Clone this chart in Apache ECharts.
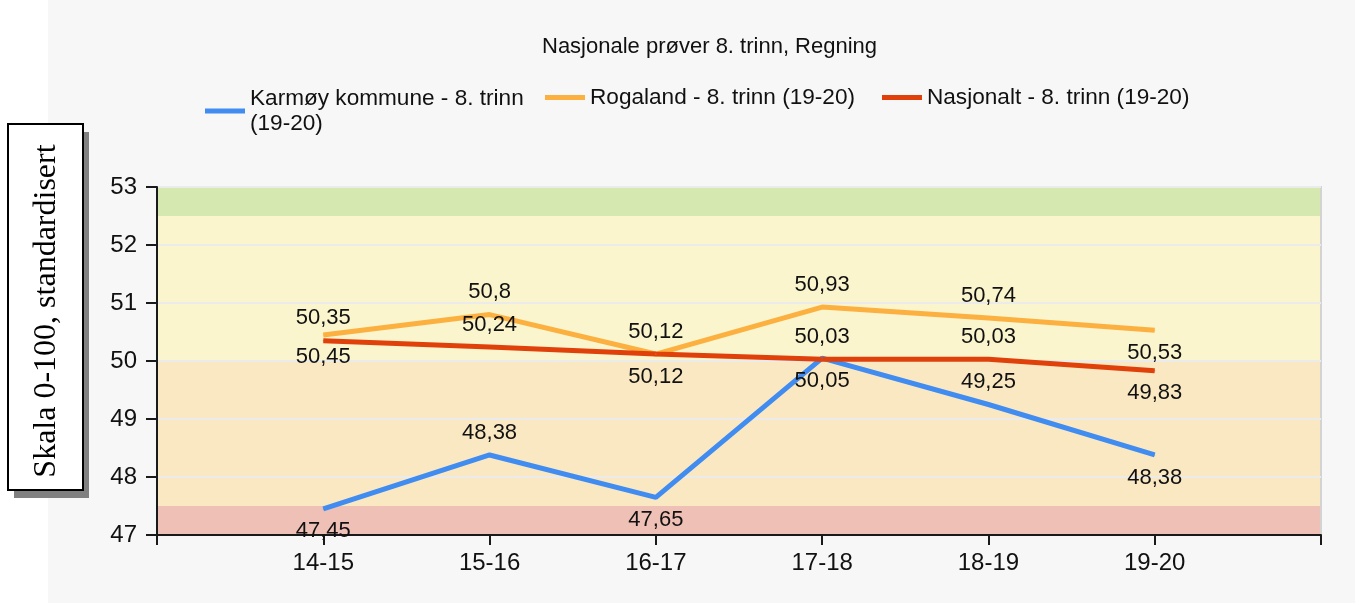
<!DOCTYPE html>
<html>
<head>
<meta charset="utf-8">
<script src="https://cdn.jsdelivr.net/npm/echarts@6/dist/echarts.min.js"></script>
<style>
    html, body { margin: 0; padding: 0; background: #fff; }
    #chart {
        width: 1355px; height: 603px;
        background: linear-gradient(to right, #ffffff 0, #ffffff 48px, #f7f7f7 48px, #f7f7f7 100%);
    }
</style>
</head>
<body>
<div id="chart"></div>
<script>
// sesonger (x-akse)
const seasons = ['14-15', '15-16', '16-17', '17-18', '18-19', '19-20'];

// verdier per serie
const karmoy = [47.45, 48.38, 47.65, 50.05, 49.25, 48.38];
const rogaland = [50.45, 50.8, 50.12, 50.93, 50.74, 50.53];
const nasjonalt = [50.35, 50.24, 50.12, 50.03, 50.03, 49.83];

// hvor etikettene står (over/under linja)
const karmoyLabelPos = ['bottom', 'top', 'bottom', 'bottom', 'top', 'bottom'];
const rogalandLabelPos = ['bottom', 'top', 'top', 'top', 'top', 'bottom'];
const nasjonaltLabelPos = ['top', 'top', 'bottom', 'top', 'top', 'bottom'];

// fargebånd i bakgrunnen
const bandLimits = [47, 47.5, 50, 52.5, 53];
const bandColors = ['#efc0b6', '#fae8c3', '#faf5cd', '#d5e8b0'];

const yTicks = [47, 48, 49, 50, 51, 52, 53];

const seriesNames = ['Karmøy kommune - 8. trinn (19-20)', 'Rogaland - 8. trinn (19-20)', 'Nasjonalt - 8. trinn (19-20)'];

window.onload = function () {
    let chart = echarts.init(document.getElementById('chart'));

    // tom kategori i hver ende, slik at aksen går litt forbi første og siste punkt
    let xData = [''].concat(seasons, ['']);

    function points(values, pos) {
        let list = values.map((v, i) => ({ value: v, label: { position: pos[i] } }));
        return ['-'].concat(list, ['-']);
    }

    let bands = [];
    for (let i = 0; i < bandColors.length; i++) {
        bands.push([
            { yAxis: bandLimits[i], itemStyle: { color: bandColors[i] } },
            { yAxis: bandLimits[i + 1] }
        ]);
    }

    let labelStyle = {
        show: true,
        distance: 11,
        fontSize: 22,
        fontFamily: 'Liberation Sans',
        color: '#111',
        formatter: (p) => String(p.value).replace('.', ',')
    };

    function lineSeries(name, values, pos, color) {
        return {
            name: name,
            type: 'line',
            data: points(values, pos),
            symbol: 'circle',
            symbolSize: 1,
            showSymbol: true,
            lineStyle: { width: 5, color: color },
            itemStyle: { color: color },
            label: labelStyle,
            emphasis: { disabled: true },
            animation: false
        };
    }

    let legendBase = {
        top: 86,
        padding: 0,
        icon: 'rect',
        itemWidth: 40,
        itemHeight: 5,
        itemGap: 27,
        itemTextGap: 9,
        textStyle: { fontSize: 22.6, color: '#111', fontFamily: 'Liberation Sans', lineHeight: 25 }
    };

    let option = {
        animation: false,
        title: {
            text: 'Nasjonale prøver 8. trinn, Regning',
            left: 537,
            top: 31,
            textStyle: { fontSize: 22, fontWeight: 'normal', color: '#111', fontFamily: 'Liberation Sans' }
        },
        // Karmøy har to linjer i forklaringen, de andre én
        legend: [
            Object.assign({}, legendBase, {
                data: [seriesNames[0]],
                left: 205,
                formatter: (name) => name.replace(' (19-20)', '\n(19-20)')
            }),
            Object.assign({}, legendBase, {
                data: [seriesNames[1], seriesNames[2]],
                left: 545,
                top: 85
            })
        ],
        grid: {
            left: 157,
            right: 34,
            top: 187,
            bottom: 68,
            show: true,
            borderColor: '#d3d3d3',
            borderWidth: 2,
            backgroundColor: 'transparent'
        },
        xAxis: {
            type: 'category',
            data: xData,
            boundaryGap: false,
            axisLine: { lineStyle: { color: '#1a1a1a', width: 2 } },
            axisTick: { show: true, length: 10, lineStyle: { color: '#1a1a1a', width: 2 } },
            axisLabel: { interval: 0, margin: 16, fontSize: 24, color: '#111', fontFamily: 'Liberation Sans' },
            splitLine: { show: false }
        },
        yAxis: {
            type: 'value',
            min: yTicks[0],
            max: yTicks[yTicks.length - 1],
            interval: 1,
            axisLine: { show: true, lineStyle: { color: '#1a1a1a', width: 2 } },
            axisTick: { show: true, length: 11, lineStyle: { color: '#1a1a1a', width: 2 } },
            axisLabel: { margin: 20, fontSize: 24, color: '#111', fontFamily: 'Liberation Sans' },
            splitLine: { show: true, lineStyle: { color: '#ebebeb', width: 2 } }
        },
        graphic: [
            { type: 'rect', shape: { x: 14, y: 132, width: 75, height: 366 }, style: { fill: '#808080' }, z: 10 },
            { type: 'rect', shape: { x: 8, y: 124, width: 75, height: 366 }, style: { fill: '#fff', stroke: '#000', lineWidth: 2 }, z: 11 },
            {
                type: 'text', x: 47, y: 311, rotation: Math.PI / 2, z: 12,
                style: {
                    text: 'Skala 0-100, standardisert',
                    font: '32px "Liberation Serif"',
                    fill: '#000',
                    align: 'center',
                    verticalAlign: 'middle'
                }
            }
        ],
        series: [
            {
                name: 'bands',
                type: 'line',
                data: [],
                silent: true,
                markArea: { silent: true, z: -1, label: { show: false }, data: bands }
            },
            lineSeries(seriesNames[0], karmoy, karmoyLabelPos, '#418cf0'),
            lineSeries(seriesNames[1], rogaland, rogalandLabelPos, '#fcb040'),
            lineSeries(seriesNames[2], nasjonalt, nasjonaltLabelPos, '#e0400a')
        ]
    };
    chart.setOption(option);
}
</script>
</body>
</html>
